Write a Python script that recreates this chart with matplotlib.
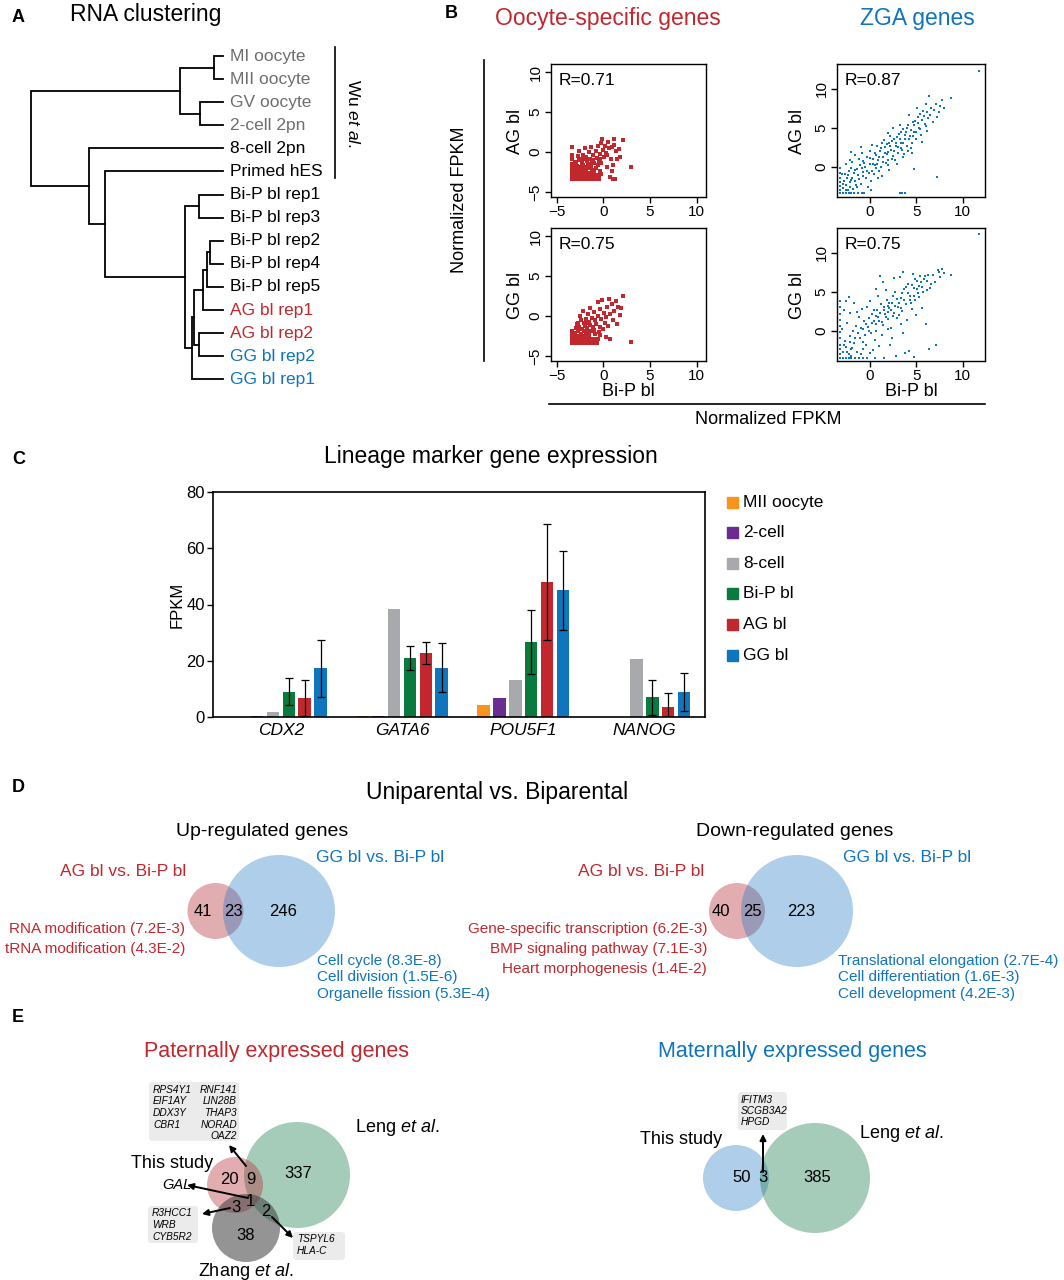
import numpy as np
import matplotlib
matplotlib.use('Agg')
import matplotlib.pyplot as plt
from matplotlib.patches import Circle, FancyBboxPatch, Rectangle

W, H = 1064, 1280
plt.rcParams['font.family'] = ['Liberation Sans', 'DejaVu Sans']
plt.rcParams['mathtext.fontset'] = 'custom'
plt.rcParams['mathtext.rm'] = 'Liberation Sans'
plt.rcParams['mathtext.it'] = 'Liberation Sans:italic'

RED = '#c1272d'
BLUE = '#0f75bc'
GREY_TXT = '#6d6e71'

# ---------------- A: clustering ----------------
leaf_names = ['MI oocyte', 'MII oocyte', 'GV oocyte', '2-cell 2pn', '8-cell 2pn',
              'Primed hES', 'Bi-P bl rep1', 'Bi-P bl rep3', 'Bi-P bl rep2',
              'Bi-P bl rep4', 'Bi-P bl rep5', 'AG bl rep1', 'AG bl rep2',
              'GG bl rep2', 'GG bl rep1']
leaf_colors = [GREY_TXT] * 4 + ['black'] * 7 + [RED, RED, BLUE, BLUE]
# (child a, child b, height); leaves are 0..14, merge k creates node 15 + k
merges = [(0, 1, 0.047), (2, 3, 0.120), (15, 16, 0.224), (6, 7, 0.123),
          (8, 9, 0.068), (19, 10, 0.085), (20, 11, 0.102), (12, 13, 0.125),
          (21, 22, 0.149), (23, 14, 0.163), (18, 24, 0.198), (5, 25, 0.615),
          (4, 26, 0.698), (17, 27, 1.0)]

# ---------------- B: scatter data (Bi-P bl on x) ----------------
ooc_ag = [(-3.3, -3.3), (-3.1, -3.3), (-2.9, -3.3), (-2.7, -3.3), (-2.5, -3.3), (-2.3, -3.3),
          (-2.1, -3.3), (-1.9, -3.3), (-1.7, -3.3), (-1.5, -3.3), (-1.3, -3.3), (-1.1, -3.3),
          (-0.9, -3.3), (-0.7, -3.3), (-0.5, -3.3), (1.0, -3.3), (1.3, -3.3),
          (-3.3, -3.1), (-3.0, -3.1), (-2.7, -3.1), (-2.4, -3.1), (-2.1, -3.1), (-1.8, -3.1),
          (-1.5, -3.1), (-1.2, -3.1), (-3.2, -2.9), (-2.9, -2.9), (-2.6, -2.9), (-2.3, -2.9),
          (-2.0, -2.9), (-1.7, -2.9), (-1.4, -2.9), (-0.9, -2.9), (-3.3, -2.7), (-3.0, -2.7),
          (-2.7, -2.7), (-2.4, -2.7), (-2.1, -2.7), (-1.8, -2.7), (-1.3, -2.7),
          (-3.3, -2.4), (-3.3, -2.0), (-3.3, -1.5), (-3.3, -0.9), (-3.3, -0.3), (-3.3, 0.6),
          (-3.0, -2.3), (-2.7, -2.2), (-2.4, -2.4), (-2.1, -2.1), (-1.8, -2.3), (-1.5, -2.0),
          (-1.2, -2.2), (-0.8, -2.0), (-0.4, -2.3), (-3.1, -1.9), (-2.8, -1.7), (-2.5, -1.9),
          (-2.2, -1.6), (-1.9, -1.8), (-1.6, -1.5), (-1.3, -1.7), (-1.0, -1.4), (-0.6, -1.6),
          (-0.2, -1.3), (-2.9, -1.2), (-2.6, -1.0), (-2.3, -1.3), (-2.0, -0.9), (-1.7, -1.1),
          (-1.4, -0.8), (-1.1, -1.0), (-0.7, -0.7), (-0.3, -0.9), (0.1, -0.6), (-2.7, -0.5),
          (-2.2, -0.3), (-1.8, -0.6), (-1.5, 0.0), (-1.1, -0.3), (-0.8, 0.2), (-0.4, -0.2),
          (0.0, 0.3), (0.3, -0.1), (0.6, 0.5), (-2.0, 0.5), (-1.3, 0.6), (-0.6, 0.8),
          (-0.2, 1.1), (0.2, 0.8), (0.5, 1.3), (0.9, 0.6), (1.2, 0.9), (1.4, 0.2), (1.7, 0.4),
          (2.1, 1.5), (1.1, 1.6), (-0.1, 1.7), (1.8, -0.6), (0.4, -1.8), (0.9, -2.4),
          (1.0, -1.6), (3.0, -1.8), (0.7, -3.1), (-2.6, 0.1), (1.5, -0.8), (-0.5, -2.9),
          (-2.9, -2.5), (-2.6, -2.5), (-2.2, -2.4), (-1.6, -2.6), (-1.0, -2.5), (-0.2, -2.7),
          (-3.0, -1.4), (-2.4, -0.8), (-1.2, -1.3), (-0.5, -1.1), (0.4, -0.4), (0.8, -0.9)]

ooc_gg = [(-3.3, -3.3), (-3.1, -3.3), (-2.9, -3.3), (-2.7, -3.3), (-2.5, -3.3), (-2.3, -3.3),
          (-2.1, -3.3), (-1.9, -3.3), (-1.7, -3.3), (-1.5, -3.3), (-1.3, -3.3), (-1.1, -3.3),
          (-0.9, -3.3), (-0.7, -3.3), (-3.3, -3.1), (-3.0, -3.1), (-2.7, -3.1), (-2.4, -3.1),
          (-2.1, -3.1), (-1.8, -3.1), (-1.5, -3.1), (-1.2, -3.1), (-0.8, -3.1), (-3.2, -2.9),
          (-2.9, -2.9), (-2.6, -2.9), (-2.3, -2.9), (-2.0, -2.9), (-1.7, -2.9), (-1.4, -2.9),
          (-1.0, -2.9), (-0.6, -2.9), (-3.3, -2.7), (-3.0, -2.7), (-2.7, -2.7), (-2.4, -2.7),
          (-2.1, -2.7), (-1.8, -2.7), (-1.5, -2.7), (-3.1, -2.5), (-2.8, -2.5), (-2.5, -2.5),
          (-2.2, -2.5), (-1.9, -2.5), (-3.3, -2.2), (-3.3, -1.8),
          (-3.0, -2.1), (-2.7, -1.9), (-2.4, -2.2), (-2.1, -1.8), (-1.8, -2.0), (-1.5, -2.3),
          (-1.2, -1.9), (-0.9, -2.2), (-0.5, -2.0), (-2.9, -1.5), (-2.6, -1.3), (-2.3, -1.6),
          (-2.0, -1.2), (-1.7, -1.5), (-1.4, -1.1), (-1.1, -1.4), (-0.8, -1.0), (-0.4, -1.3),
          (0.0, -1.6), (-2.7, -0.8), (-2.4, -0.5), (-2.1, -0.9), (-1.8, -0.4), (-1.5, -0.7),
          (-1.2, -0.2), (-0.9, -0.5), (-0.6, 0.0), (-0.2, -0.4), (0.2, -0.8), (-2.5, 0.0),
          (-2.2, 0.7), (-1.6, 0.3), (-1.0, 0.5), (-0.6, 1.8), (-0.3, 0.9), (0.1, 0.4),
          (0.4, 1.1), (0.7, 0.3), (0.9, 1.5), (1.2, 0.7), (1.4, 1.9), (1.6, 1.2), (1.8, 0.1),
          (2.1, 2.5), (1.0, -0.5), (0.5, -1.2), (1.5, -1.0), (0.75, -2.9), (3.0, -3.2),
          (-0.1, 2.0), (0.3, -2.6), (1.9, 1.0), (-1.4, 1.0), (0.6, 2.1),
          (-1.6, -1.9), (-1.0, -1.7), (-0.3, -2.4), (-2.8, -1.0), (-1.9, -0.8), (0.3, -0.1)]

zga_ag = [(-3.2, -3.4), (-2.9, -3.4), (-2.6, -3.4), (-2.3, -3.4), (-2.0, -3.4), (-1.7, -3.4),
          (-1.3, -3.4), (-0.9, -3.4), (-0.6, -3.4), (3.2, -3.4), (3.5, -3.4), (3.8, -3.4),
          (-3.2, -3.0), (-3.2, -2.5), (-3.2, -2.0), (-3.2, -1.4), (-3.2, -0.8), (-3.2, -0.2),
          (-2.9, -2.8), (-2.6, -2.4), (-2.4, -3.0), (-2.1, -2.6), (-1.8, -2.9), (-1.5, -2.3),
          (-2.8, -1.9), (-2.5, -1.5), (-2.2, -2.0), (-1.9, -1.4), (-1.6, -1.8), (-1.3, -1.1),
          (-1.0, -2.2), (-2.7, -0.9), (-2.3, -0.6), (-2.0, -0.2), (-1.7, -0.8), (-1.4, -0.3),
          (-1.1, 0.2), (-0.8, -0.7), (-0.5, 0.0), (-2.6, 0.4), (-1.9, 0.6), (-1.2, 1.0),
          (-0.7, 0.7), (-0.3, 1.3), (0.0, 0.4), (0.2, -0.5), (-0.4, -1.5), (0.3, 1.0),
          (0.5, 0.2), (0.7, 1.5), (0.9, 0.8), (1.1, 2.0), (1.2, 0.0), (1.4, 1.2), (1.6, 2.5),
          (1.8, 1.6), (2.0, 0.9), (2.1, 3.0), (2.3, 2.1), (2.5, 1.4), (2.6, 3.5), (2.8, 2.6),
          (3.0, 1.8), (3.1, 4.2), (3.3, 3.0), (3.5, 2.2), (3.6, 4.8), (3.8, 3.6), (4.0, 2.7),
          (4.1, 5.3), (4.3, 4.0), (4.5, 3.1), (4.6, 5.8), (4.8, 4.5), (5.0, 3.6), (5.2, 6.4),
          (5.3, 5.0), (5.5, 4.1), (5.7, 7.1), (5.9, 5.5), (6.1, 4.6), (6.3, 6.3), (6.6, 7.6),
          (6.8, 5.8), (7.1, 8.1), (7.4, 7.0), (7.8, 8.6), (8.0, 7.5), (8.7, 8.8), (6.4, 9.1),
          (11.8, 12.35), (4.7, -0.26), (7.2, -1.3), (0.0, 2.0), (0.4, -1.0), (0.8, 2.6),
          (1.0, -0.6), (1.5, 3.4), (1.9, 0.2), (2.2, 4.0), (2.7, 0.8), (3.2, 5.4), (3.7, 1.6),
          (4.2, 6.6), (4.4, 2.4), (5.1, 7.6), (5.6, 3.2), (6.0, 8.0), (1.3, 3.0), (2.4, 1.0),
          (3.4, 2.4), (4.9, 5.9), (0.6, -0.2), (-0.2, -2.6), (0.1, -3.0), (-0.9, 1.8),
          (1.7, 0.5), (2.9, 3.8), (3.9, 4.4), (4.5, 1.8), (5.4, 6.8), (-1.6, 1.5), (-2.0, 1.9),
          (-2.4, -1.1), (-2.0, -1.7), (-1.6, -0.4), (-1.2, -1.6), (-0.9, -0.2), (-0.6, 0.5),
          (-0.3, -0.5), (0.0, 1.1), (0.3, 0.3), (0.5, 1.7), (0.8, 0.4), (1.0, 1.2), (1.2, 2.4),
          (1.4, 0.6), (1.6, 1.8), (1.8, 2.9), (2.0, 1.9), (2.2, 2.6), (2.4, 3.3), (2.6, 2.0),
          (2.8, 3.1), (3.0, 2.5), (3.2, 3.6), (3.4, 4.5), (3.6, 3.0), (3.8, 4.1), (4.0, 5.0),
          (4.2, 3.5), (4.4, 4.7), (4.6, 4.0), (4.8, 5.3), (5.0, 4.5), (5.2, 5.6), (5.4, 4.9),
          (5.6, 6.0), (5.8, 6.5), (6.0, 5.2), (6.2, 7.0), (6.5, 6.7), (6.9, 7.3), (7.2, 6.4),
          (7.6, 7.8), (-2.9, -2.2), (-2.6, -3.0), (-1.4, -2.6), (-0.7, -1.2), (0.1, -1.8),
          (1.3, -1.2), (2.9, 0.4), (3.6, 1.2), (-1.0, 2.5), (0.2, 2.8), (1.9, 4.3), (2.5, 5.0),
          (-3.0, -1.0), (-2.2, 0.9), (-0.1, -0.8), (0.9, -1.5), (2.1, -0.4), (4.1, 2.0)]

zga_gg = [(-3.2, -3.5), (-2.9, -3.5), (-2.6, -3.5), (-2.3, -3.5), (-2.0, -3.5), (-1.6, -3.5),
          (-1.2, -3.5), (-0.8, -3.5), (-0.3, -3.5), (0.5, -3.5), (1.5, -3.5), (4.8, -3.4),
          (-3.2, -3.0), (-3.2, -2.4), (-3.2, -1.8), (-3.2, -1.0), (-3.2, -0.2), (-3.2, 0.6),
          (-3.2, 1.4), (-3.2, 2.2), (-3.2, 3.0), (-3.2, 3.8), (-2.9, -2.7), (-2.6, -2.1),
          (-2.3, -3.0), (-2.0, -2.4), (-1.7, -1.6), (-1.4, -2.8), (-2.7, -1.3), (-2.2, -0.7),
          (-1.8, -0.1), (-1.5, 0.6), (-1.1, -1.0), (-0.8, 0.2), (-0.5, -0.6), (-2.5, 1.0),
          (-2.1, 2.3), (-1.7, 3.5), (-2.3, 4.3), (-1.2, 1.7), (-0.6, 1.2), (-0.2, 0.5),
          (0.1, -0.3), (0.2, 2.1), (-0.4, -1.9), (0.4, 1.2), (0.6, 0.0), (0.8, 2.6), (1.0, 1.3),
          (1.1, 7.0), (1.2, 3.4), (1.4, 0.7), (1.6, 2.2), (1.8, 4.0), (2.0, 1.5), (2.1, 2.9),
          (2.3, 0.4), (2.4, 3.6), (2.6, 2.3), (2.7, 5.0), (2.9, 1.6), (3.0, 3.1), (3.2, 6.9),
          (3.3, 4.2), (3.5, 2.5), (3.6, 7.6), (3.7, 5.3), (3.9, 3.4), (4.1, 6.0), (4.2, -2.6),
          (4.3, 4.5), (4.5, 2.8), (4.6, 7.3), (4.7, 5.5), (4.9, 3.9), (5.1, 6.4), (5.2, 4.8),
          (5.4, 7.0), (5.6, 5.6), (5.8, 6.6), (6.0, 0.9), (6.1, 5.2), (6.3, 7.2), (6.4, -2.4),
          (6.6, 6.0), (7.1, -1.9), (7.3, 7.8), (7.6, 6.9), (8.0, 7.4), (8.7, 7.2), (11.8, 12.4),
          (0.0, 3.8), (0.5, -1.2), (1.3, -0.6), (2.2, -1.8), (3.4, 0.8), (4.0, 1.4), (5.0, 2.0),
          (1.7, 5.2), (0.9, 4.4), (-0.9, 2.8), (2.8, -3.2), (3.8, -2.9), (0.3, -2.5),
          (-1.0, -3.0), (1.9, 3.2), (2.5, 4.4), (3.1, 2.0), (4.4, 3.6), (5.3, 5.8), (0.7, 1.9),
          (1.5, 3.0), (2.0, 0.2), (-0.1, 1.6),
          (-2.8, -1.8), (-2.5, -2.8), (-2.2, -1.5), (-1.9, -2.2), (-1.6, -0.9), (-1.3, -0.3),
          (-1.0, 0.4), (-0.7, -1.4), (-0.4, 0.8), (-0.1, 0.0), (0.2, 1.0), (0.4, 2.6), (0.7, 0.9),
          (0.9, 1.7), (1.1, 2.3), (1.3, 1.1), (1.5, 2.7), (1.7, 1.8), (1.9, 2.4), (2.1, 3.5),
          (2.3, 2.6), (2.5, 1.9), (2.7, 3.2), (2.9, 4.1), (3.1, 3.6), (3.3, 2.9), (3.5, 4.8),
          (3.7, 4.0), (3.9, 5.6), (4.1, 4.9), (4.3, 3.9), (4.5, 5.9), (4.7, 4.4), (4.9, 6.6),
          (5.1, 5.3), (5.3, 4.3), (5.5, 6.2), (5.7, 5.0), (5.9, 7.0), (6.2, 6.4), (6.5, 5.5),
          (6.8, 7.1), (7.0, 6.3), (7.4, 7.5), (7.8, 7.9), (-3.0, 0.2), (-2.8, 2.6), (-2.6, 3.8),
          (-1.4, 2.4), (-0.3, 3.1), (0.6, 5.4), (1.4, 6.2), (2.6, 6.8), (-0.8, -2.4), (1.0, -2.0),
          (2.4, -0.9), (3.6, -0.3), (5.6, 2.9), (-2.0, -3.2), (0.0, -2.9)]

r_values = ['R=0.71', 'R=0.87', 'R=0.75', 'R=0.75']

# ---------------- C: bar data ----------------
genes = ['CDX2', 'GATA6', 'POU5F1', 'NANOG']
stages = ['MII oocyte', '2-cell', '8-cell', 'Bi-P bl', 'AG bl', 'GG bl']
stage_colors = ['#f7941d', '#6a2c91', '#a7a9ac', '#0b7a3e', '#c1272d', '#0f75bc']
mii_fpkm = [0.1, 0.3, 4.2, 0.0]
cell2_fpkm = [0.3, 0.3, 6.7, 0.0]
cell8_fpkm = [1.7, 38.5, 13.0, 20.8]
bip_fpkm = [9.0, 21.0, 26.7, 7.0]
ag_fpkm = [6.8, 22.6, 47.9, 3.6]
gg_fpkm = [17.3, 17.6, 45.1, 8.9]
bip_err = [4.9, 4.2, 11.4, 6.2]
ag_err = [6.3, 3.9, 20.6, 4.9]
gg_err = [10.1, 8.6, 14.1, 6.8]

# ---------------- D / E: venn counts ----------------
up_counts = [41, 23, 246]
down_counts = [40, 25, 223]
up_go_ag = ['RNA modification (7.2E-3)', 'tRNA modification (4.3E-2)']
up_go_gg = ['Cell cycle (8.3E-8)', 'Cell division (1.5E-6)', 'Organelle fission (5.3E-4)']
down_go_ag = ['Gene-specific transcription (6.2E-3)', 'BMP signaling pathway (7.1E-3)',
              'Heart morphogenesis (1.4E-2)']
down_go_gg = ['Translational elongation (2.7E-4)', 'Cell differentiation (1.6E-3)',
              'Cell development (4.2E-3)']
pat_counts = {'this': 20, 'this_leng': 9, 'leng': 337, 'all': 1, 'this_zhang': 3,
              'leng_zhang': 2, 'zhang': 38}
mat_counts = [50, 3, 385]
genes_this_leng_a = ['RPS4Y1', 'EIF1AY', 'DDX3Y', 'CBR1']
genes_this_leng_b = ['RNF141', 'LIN28B', 'THAP3', 'NORAD', 'OAZ2']
genes_this_zhang = ['R3HCC1', 'WRB', 'CYB5R2']
genes_leng_zhang = ['TSPYL6', 'HLA-C']
genes_mat = ['IFITM3', 'SCGB3A2', 'HPGD']


def px_axes(fig, x0, y0, x1, y1):
    return fig.add_axes([x0 / W, 1 - y1 / H, (x1 - x0) / W, (y1 - y0) / H])


fig = plt.figure(figsize=(W / 100, H / 100), dpi=100)

# ---------- dendrogram ----------
row0, pitch = 56, 23.1
n_leaf = len(leaf_names)
dax = px_axes(fig, 31, row0 - pitch / 2, 223, row0 + pitch * (n_leaf - 0.5))
dax.set_xlim(1.0, 0.0)
dax.set_ylim(n_leaf - 0.5, -0.5)
dax.axis('off')
pos = {i: (float(i), 0.0) for i in range(n_leaf)}
for k, (a, b, h) in enumerate(merges):
    ya, ha = pos[a]
    yb, hb = pos[b]
    dax.plot([ha, h, h, hb], [ya, ya, yb, yb], color='black', lw=1.3,
             solid_joinstyle='miter', clip_on=False)
    pos[n_leaf + k] = ((ya + yb) / 2, h)

# ---------- scatter panels ----------
sc_boxes = [(551, 64, 706, 197), (837, 64, 985, 197), (551, 228, 706, 361), (837, 228, 985, 361)]
sc_data = [ooc_ag, zga_ag, ooc_gg, zga_gg]
sc_col = [RED, BLUE, RED, BLUE]
sc_size = [5, 3.5, 5, 3.5]
for i, box in enumerate(sc_boxes):
    ax = px_axes(fig, *box)
    pts = np.array(sc_data[i])
    ax.scatter(pts[:, 0], pts[:, 1], s=sc_size[i], color=sc_col[i], marker='s', linewidths=0)
    if i % 2 == 0:
        ax.set_xlim(-5.6, 11.0)
        ax.set_ylim(-5.6, 11.0)
        ax.set_xticks([-5, 0, 5, 10])
        ax.set_yticks([-5, 0, 5, 10])
    else:
        ax.set_xlim(-3.55, 12.4)
        ax.set_ylim(-3.9, 13.2)
        ax.set_xticks([0, 5, 10])
        ax.set_yticks([0, 5, 10])
    ax.tick_params(direction='out', length=4, width=1, labelsize=11, pad=2)
    ax.tick_params(axis='y', labelrotation=90)
    for lab in ax.get_yticklabels():
        lab.set_va('center')
    for sp in ax.spines.values():
        sp.set_linewidth(1.0)
    ax.text(0.05, 0.93, r_values[i], transform=ax.transAxes, fontsize=12.5,
            ha='left', va='top')

# ---------- bar chart ----------
bax = px_axes(fig, 213, 492, 705, 717)
series = [mii_fpkm, cell2_fpkm, cell8_fpkm, bip_fpkm, ag_fpkm, gg_fpkm]
errs = [None, None, None, bip_err, ag_err, gg_err]
xg = np.arange(len(genes))
step, bw = 0.131, 0.103
for j, vals in enumerate(series):
    xs = xg + (j - 2.5) * step
    bax.bar(xs, vals, width=bw, color=stage_colors[j], zorder=2)
    if errs[j] is not None:
        bax.errorbar(xs, vals, yerr=errs[j], fmt='none', ecolor='black', elinewidth=0.9,
                     capsize=3, capthick=0.9, zorder=3)
bax.set_xlim(-0.56, 3.5)
bax.set_ylim(0, 80)
bax.set_yticks([0, 20, 40, 60, 80])
bax.set_xticks(xg)
bax.set_xticklabels(genes, fontstyle='italic', fontsize=12.5)
bax.tick_params(axis='x', length=0, pad=4)
bax.tick_params(axis='y', direction='out', length=4, width=1, labelsize=12, pad=2)
for sp in bax.spines.values():
    sp.set_linewidth(1.2)
bax.set_ylabel('FPKM', fontsize=12, labelpad=1)

# ---------- overlay (text, lines, venns) ----------
ov = fig.add_axes([0, 0, 1, 1])
ov.set_xlim(0, W)
ov.set_ylim(H, 0)
ov.axis('off')


def txt(x, y, s, size, color='black', ha='left', va='center', **kw):
    ov.text(x, y, s, fontsize=size, color=color, ha=ha, va=va, **kw)


for lab, x, y in [('A', 12, 18), ('B', 445, 14), ('C', 12, 459), ('D', 12, 788), ('E', 12, 1017)]:
    txt(x, y, lab, 13, weight='bold')

# A
txt(70, 15, 'RNA clustering', 16.5)
for i, name in enumerate(leaf_names):
    txt(230, row0 + pitch * i, name, 12.5, color=leaf_colors[i])
ov.plot([335, 335], [47, 178], color='black', lw=1.2)
txt(353, 113, r'Wu $\mathit{et\ al.}$', 12.5, ha='center', rotation=270)

# B
txt(608, 18, 'Oocyte-specific genes', 16.5, color=RED, ha='center')
txt(917, 18, 'ZGA genes', 16.5, color=BLUE, ha='center')
ov.plot([484, 484], [60, 361], color='black', lw=1.2)
txt(460, 200, 'Normalized FPKM', 13, ha='center', rotation=90)
ov.plot([549, 985], [404, 404], color='black', lw=1.2)
txt(768, 419, 'Normalized FPKM', 13, ha='center')
for x in (515, 798):
    txt(x, 131, 'AG bl', 13, ha='center', rotation=90)
    txt(x, 295, 'GG bl', 13, ha='center', rotation=90)
txt(628, 391, 'Bi-P bl', 13, ha='center')
txt(911, 391, 'Bi-P bl', 13, ha='center')

# C
txt(491, 457, 'Lineage marker gene expression', 16.5, ha='center')
for j, name in enumerate(stages):
    y = 502 + 30.6 * j
    ov.add_patch(Rectangle((727, y - 5.5), 11, 11, color=stage_colors[j]))
    txt(743, y, name, 12.5)

# D
txt(497, 792, 'Uniparental vs. Biparental', 16.5, ha='center')
RED_V = (0.71, 0.16, 0.2)
BLUE_V = (0.12, 0.47, 0.78)
GREEN_V = (0.16, 0.52, 0.35)
GREY_V = (0.24, 0.24, 0.24)


def circ(cx, cy, r, col, alpha):
    ov.add_patch(Circle((cx, cy), r, facecolor=col, edgecolor='none', alpha=alpha))


venn_d = [(215.5, 279, 262, 'Up-regulated genes', up_counts, up_go_ag, up_go_gg, 185, 317,
           123, 380, (203, 233, 283)),
          (737, 797, 795, 'Down-regulated genes', down_counts, down_go_ag, down_go_gg, 707,
           838, 641, 907, (721, 752, 801))]
for (cx_r, cx_b, title_x, title, counts, go_ag, go_gg, go_r_x, go_b_x, lab_r_x, lab_b_x,
     xs) in venn_d:
    txt(title_x, 831, title, 14, ha='center')
    circ(cx_r, 911, 28, RED_V, 0.38)
    circ(cx_b, 911, 56, BLUE_V, 0.36)
    for x, c in zip(xs, counts):
        txt(x, 911, str(c), 12, ha='center')
    txt(lab_r_x, 872, 'AG bl vs. Bi-P bl', 12.5, color=RED, ha='center')
    txt(lab_b_x, 858, 'GG bl vs. Bi-P bl', 12.5, color=BLUE, ha='center')
    for k, s in enumerate(go_ag):
        txt(go_r_x, 929 + 20 * k, s, 11, color=RED, ha='right')
    for k, s in enumerate(go_gg):
        txt(go_b_x, 961 + 16.3 * k, s, 11, color=BLUE)

# E paternal
txt(277, 1052, 'Paternally expressed genes', 15.5, color=RED, ha='center')
circ(297, 1175, 53, GREEN_V, 0.42)
circ(235, 1185, 28, RED_V, 0.38)
circ(246, 1228, 34, GREY_V, 0.55)
for key, x, y in [('this', 229, 1179), ('this_leng', 251, 1179), ('leng', 298, 1173),
                  ('all', 250, 1201), ('this_zhang', 236, 1207), ('leng_zhang', 266, 1211),
                  ('zhang', 246, 1235)]:
    txt(x, y, str(pat_counts[key]), 12, ha='center')
txt(213, 1164, 'This study', 13, ha='right')
txt(355, 1127, r'Leng $\mathit{et\ al.}$', 13)
txt(246, 1271, r'Zhang $\mathit{et\ al.}$', 13, ha='center')
txt(162, 1185, 'GAL', 10.5, style='italic')

BOX_C = '#ebebeb'


def gene_box(x0, y0, x1, y1):
    ov.add_patch(FancyBboxPatch((x0, y0), x1 - x0, y1 - y0,
                                boxstyle='round,pad=0,rounding_size=4',
                                facecolor=BOX_C, edgecolor='none', zorder=0))


gene_box(149, 1082, 239, 1141)
for k, g in enumerate(genes_this_leng_a):
    txt(153, 1090 + 11.5 * k, g, 7.3, style='italic')
for k, g in enumerate(genes_this_leng_b):
    txt(237, 1090 + 11.5 * k, g, 7.3, style='italic', ha='right')
gene_box(148, 1206, 198, 1243)
for k, g in enumerate(genes_this_zhang):
    txt(152, 1213 + 12 * k, g, 7.3, style='italic')
gene_box(293, 1232, 345, 1260)
for k, g in enumerate(genes_leng_zhang):
    txt(297, 1239 + 11.5 * k, g, 7.3, style='italic')


def arrow(x0, y0, x1, y1):
    ov.annotate('', xy=(x1, y1), xytext=(x0, y0),
                arrowprops=dict(arrowstyle='-|>', lw=1.4, color='black',
                                mutation_scale=9, shrinkA=0, shrinkB=0))


arrow(246, 1166, 229, 1145)
arrow(248, 1198, 187, 1185)
arrow(230, 1208, 202, 1214)
arrow(272, 1217, 293, 1238)

# E maternal
txt(792, 1052, 'Maternally expressed genes', 15.5, color=BLUE, ha='center')
circ(736, 1178, 33, BLUE_V, 0.36)
circ(815, 1178, 55, GREEN_V, 0.42)
for x, c in zip((742, 763, 817), mat_counts):
    txt(x, 1177, str(c), 12, ha='center')
txt(681, 1140, 'This study', 13, ha='center')
txt(859, 1133, r'Leng $\mathit{et\ al.}$', 13)
gene_box(738, 1092, 787, 1130)
for k, g in enumerate(genes_mat):
    txt(741, 1100 + 11 * k, g, 7.3, style='italic')
arrow(763, 1172, 763, 1134)

fig.savefig('out.png', dpi=100)
